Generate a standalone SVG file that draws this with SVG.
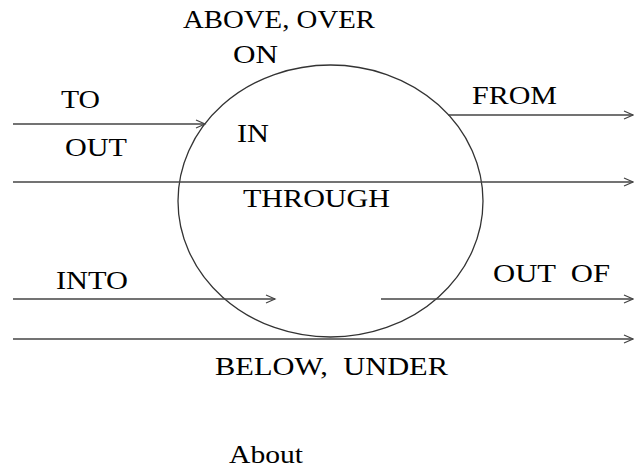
<svg xmlns="http://www.w3.org/2000/svg" width="634" height="468" viewBox="0 0 634 468">
<style>
.t{font-family:"Liberation Serif","Times New Roman",serif;font-size:25px;fill:#000}
.c{stroke:#444;stroke-width:1.3;fill:none}
</style>
<defs>
<marker id="ah" markerUnits="userSpaceOnUse" markerWidth="12" markerHeight="12" refX="10" refY="5" orient="auto" viewBox="0 0 12 10">
<path d="M1,1 L10,5 L1,9" fill="none" stroke="#444" stroke-width="1.2"/>
</marker>
</defs>
<rect width="634" height="468" fill="#fff"/>
<g id="region">
<ellipse cx="330.5" cy="201" rx="152.5" ry="136" fill="none" stroke="#333" stroke-width="1.3"/>
</g>
<g id="connectors">
<line class="c" x1="13" y1="124" x2="205" y2="124" marker-end="url(#ah)"/>
<line class="c" x1="448" y1="115" x2="633" y2="115" marker-end="url(#ah)"/>
<line class="c" x1="13" y1="182" x2="633" y2="182" marker-end="url(#ah)"/>
<line class="c" x1="13" y1="299" x2="275" y2="299" marker-end="url(#ah)"/>
<line class="c" x1="381" y1="299" x2="633" y2="299" marker-end="url(#ah)"/>
<line class="c" x1="13" y1="339" x2="633" y2="339" marker-end="url(#ah)"/>
</g>
<g id="labels">
<text class="t" x="183" y="28" textLength="192" lengthAdjust="spacingAndGlyphs">ABOVE, OVER</text>
<text class="t" x="233" y="63" textLength="45" lengthAdjust="spacingAndGlyphs">ON</text>
<text class="t" x="61" y="108" textLength="39" lengthAdjust="spacingAndGlyphs">TO</text>
<text class="t" x="65" y="156" textLength="62" lengthAdjust="spacingAndGlyphs">OUT</text>
<text class="t" x="237" y="142" textLength="32" lengthAdjust="spacingAndGlyphs">IN</text>
<text class="t" x="243" y="207" textLength="147" lengthAdjust="spacingAndGlyphs">THROUGH</text>
<text class="t" x="472" y="104" textLength="85" lengthAdjust="spacingAndGlyphs">FROM</text>
<text class="t" x="56" y="289" textLength="72" lengthAdjust="spacingAndGlyphs">INTO</text>
<text class="t" x="493" y="282" textLength="117" lengthAdjust="spacingAndGlyphs" xml:space="preserve">OUT  OF</text>
<text class="t" x="215" y="375" textLength="233" lengthAdjust="spacingAndGlyphs" xml:space="preserve">BELOW,  UNDER</text>
<text class="t" x="229" y="463" textLength="74" lengthAdjust="spacingAndGlyphs">About</text>
</g>
</svg>
